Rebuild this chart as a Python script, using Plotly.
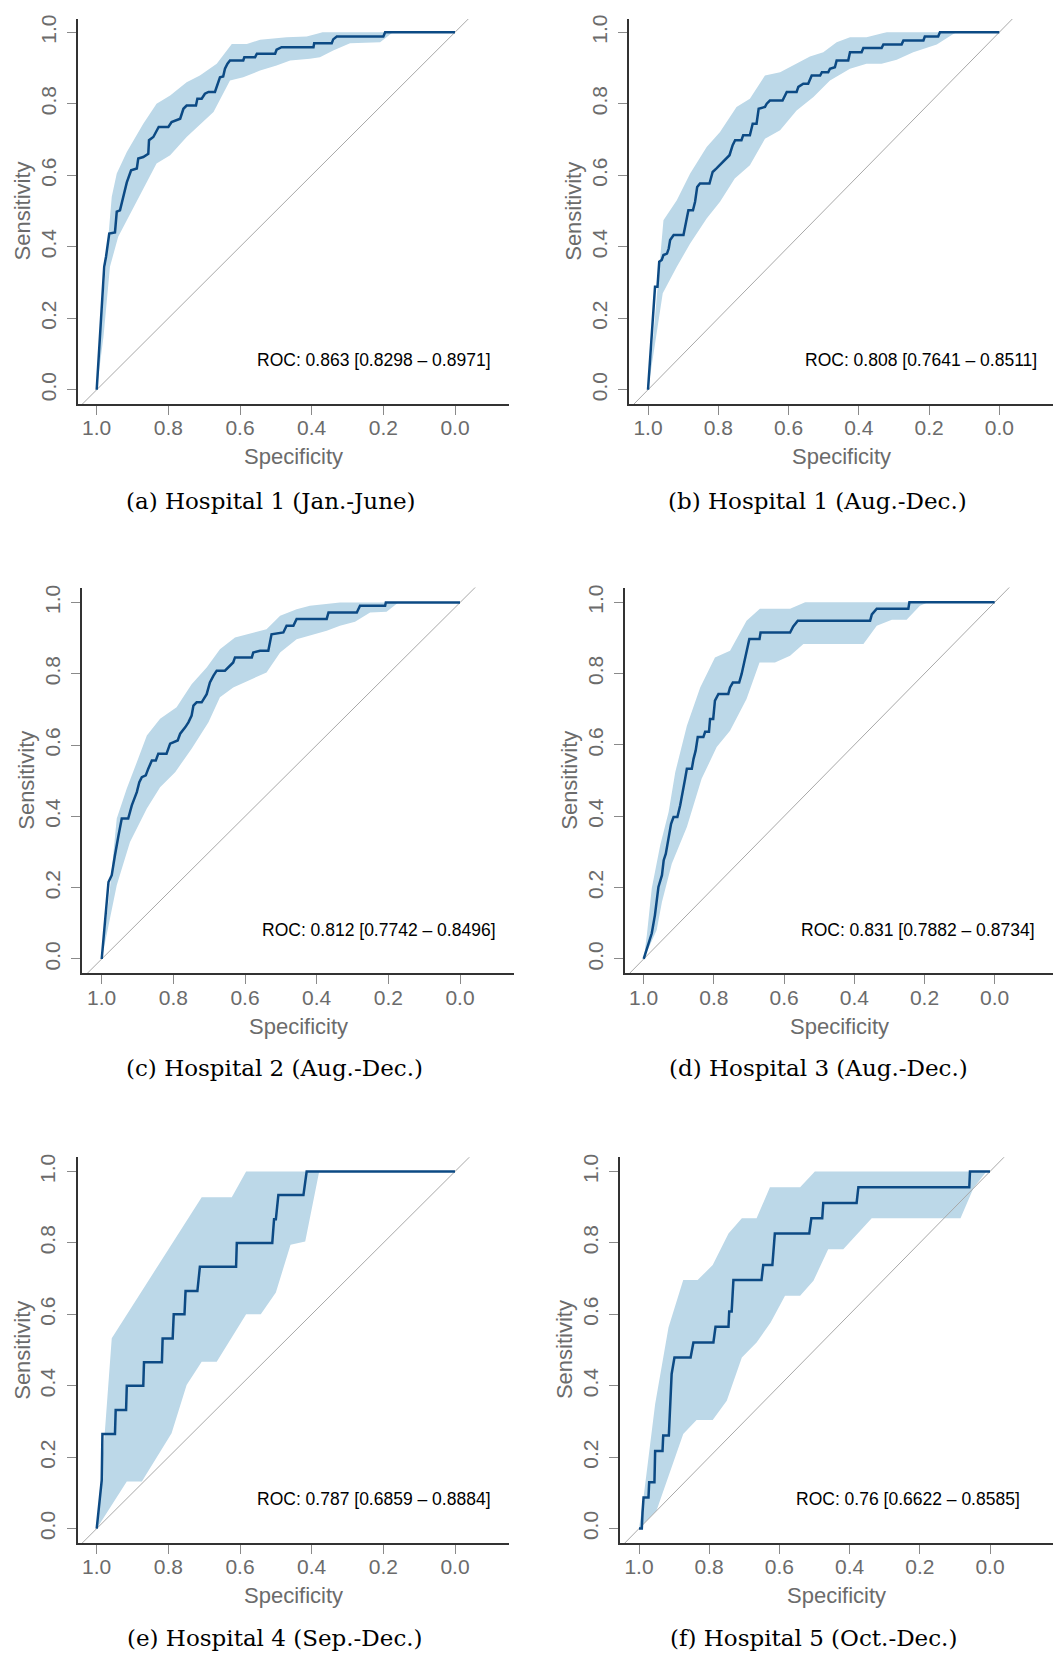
import plotly.graph_objects as go

# ---------------- data (specificity, sensitivity) ----------------
tick_vals = [1.0, 0.8, 0.6, 0.4, 0.2, 0.0]
tick_text = ["1.0", "0.8", "0.6", "0.4", "0.2", "0.0"]

captions = ["(a) Hospital 1 (Jan.-June)", "(b) Hospital 1 (Aug.-Dec.)",
            "(c) Hospital 2 (Aug.-Dec.)", "(d) Hospital 3 (Aug.-Dec.)",
            "(e) Hospital 4 (Sep.-Dec.)", "(f) Hospital 5 (Oct.-Dec.)"]
auc_texts = ["ROC: 0.863 [0.8298 \u2013 0.8971]", "ROC: 0.808 [0.7641 \u2013 0.8511]",
             "ROC: 0.812 [0.7742 \u2013 0.8496]", "ROC: 0.831 [0.7882 \u2013 0.8734]",
             "ROC: 0.787 [0.6859 \u2013 0.8884]", "ROC: 0.76 [0.6622 \u2013 0.8585]"]

a_roc = [(1,0),(0.979,0.344),(0.974,0.372),(0.969,0.410),(0.965,0.437),(0.949,0.440),(0.944,0.498),
         (0.935,0.502),(0.926,0.540),(0.916,0.580),(0.904,0.614),(0.888,0.619),(0.884,0.647),(0.870,0.651),
         (0.856,0.660),(0.854,0.698),(0.842,0.707),(0.833,0.726),(0.827,0.735),(0.800,0.735),(0.791,0.749),
         (0.767,0.758),(0.758,0.786),(0.749,0.795),(0.723,0.795),(0.719,0.814),(0.707,0.814),(0.698,0.828),
         (0.688,0.833),(0.670,0.833),(0.665,0.847),(0.656,0.874),(0.647,0.876),(0.642,0.898),(0.635,0.912),
         (0.628,0.921),(0.591,0.921),(0.588,0.930),(0.558,0.930),(0.553,0.940),(0.502,0.940),(0.498,0.951),
         (0.484,0.958),(0.395,0.958),(0.393,0.969),(0.344,0.969),(0.340,0.980),(0.330,0.988),(0.200,0.988),
         (0.195,1.0),(0,1.0)]
a_upper = [(1,0),(0.991,0.149),(0.958,0.540),(0.944,0.605),(0.916,0.665),(0.870,0.744),(0.833,0.800),
           (0.795,0.823),(0.749,0.860),(0.712,0.879),(0.665,0.912),(0.623,0.967),(0.581,0.967),(0.544,0.979),
           (0.470,0.986),(0.414,0.988),(0.377,0.998),(0.370,1.0),(0,1.0)]
a_lower = [(1,0),(0.981,0.149),(0.963,0.344),(0.940,0.428),(0.916,0.474),(0.833,0.633),(0.795,0.656),
           (0.749,0.707),(0.674,0.777),(0.628,0.865),(0.591,0.874),(0.544,0.893),(0.498,0.907),(0.460,0.921),
           (0.405,0.926),(0.377,0.930),(0.340,0.949),(0.293,0.969),(0.209,0.972),(0.177,0.997),(0.163,1.0),(0,1.0)]

b_roc = [(1,0),(0.980,0.288),(0.973,0.288),(0.971,0.316),(0.968,0.358),(0.961,0.363),(0.956,0.377),
         (0.946,0.381),(0.941,0.395),(0.937,0.419),(0.927,0.433),(0.899,0.433),(0.894,0.456),(0.890,0.470),
         (0.885,0.502),(0.872,0.502),(0.866,0.526),(0.860,0.567),(0.852,0.577),(0.825,0.577),(0.816,0.609),
         (0.805,0.619),(0.791,0.633),(0.777,0.647),(0.768,0.656),(0.759,0.684),(0.752,0.698),(0.734,0.698),
         (0.729,0.712),(0.710,0.712),(0.702,0.744),(0.691,0.744),(0.685,0.786),(0.667,0.791),(0.662,0.800),
         (0.653,0.809),(0.617,0.809),(0.605,0.833),(0.577,0.833),(0.572,0.847),(0.558,0.856),(0.544,0.856),
         (0.534,0.879),(0.510,0.879),(0.505,0.888),(0.487,0.888),(0.482,0.898),(0.468,0.902),(0.463,0.921),
         (0.430,0.921),(0.425,0.944),(0.392,0.944),(0.387,0.956),(0.335,0.956),(0.330,0.966),(0.278,0.966),
         (0.273,0.977),(0.216,0.977),(0.212,0.988),(0.174,0.988),(0.169,1.0),(0,1.0)]
b_upper = [(1,0),(0.985,0.149),(0.956,0.474),(0.918,0.530),(0.880,0.605),(0.833,0.679),(0.795,0.721),
           (0.748,0.791),(0.710,0.814),(0.667,0.879),(0.624,0.888),(0.577,0.912),(0.539,0.932),(0.501,0.944),
           (0.463,0.972),(0.425,0.986),(0.378,0.986),(0.330,0.998),(0.320,1.0),(0,1.0)]
b_lower = [(1,0),(0.958,0.270),(0.918,0.344),(0.880,0.409),(0.833,0.479),(0.795,0.526),(0.753,0.591),
           (0.710,0.628),(0.667,0.702),(0.624,0.726),(0.577,0.781),(0.529,0.819),(0.482,0.865),(0.425,0.898),
           (0.378,0.912),(0.335,0.912),(0.292,0.923),(0.245,0.944),(0.178,0.966),(0.131,0.995),(0.121,1.0),(0,1.0)]

c_roc = [(1,0),(0.981,0.216),(0.972,0.235),(0.967,0.272),(0.963,0.291),(0.953,0.347),(0.944,0.394),
         (0.926,0.394),(0.916,0.431),(0.902,0.468),(0.895,0.496),(0.888,0.510),(0.877,0.515),(0.870,0.534),
         (0.860,0.557),(0.849,0.557),(0.842,0.576),(0.819,0.576),(0.809,0.604),(0.788,0.613),(0.781,0.632),
         (0.767,0.650),(0.758,0.664),(0.749,0.683),(0.744,0.711),(0.735,0.720),(0.721,0.720),(0.707,0.743),
         (0.698,0.776),(0.688,0.795),(0.679,0.809),(0.656,0.809),(0.642,0.823),(0.633,0.832),(0.628,0.846),
         (0.581,0.846),(0.577,0.860),(0.558,0.865),(0.535,0.865),(0.526,0.911),(0.493,0.916),(0.484,0.935),
         (0.465,0.935),(0.456,0.954),(0.372,0.954),(0.367,0.972),(0.288,0.972),(0.279,0.991),(0.209,0.991),
         (0.207,1.0),(0,1.0)]
c_upper = [(1,0),(0.977,0.198),(0.958,0.394),(0.930,0.478),(0.902,0.552),(0.874,0.627),(0.837,0.674),
           (0.791,0.706),(0.749,0.771),(0.707,0.818),(0.670,0.869),(0.628,0.902),(0.540,0.925),(0.502,0.963),
           (0.456,0.981),(0.419,0.991),(0.335,1.0),(0,1.0)]
c_lower = [(1,0),(0.958,0.207),(0.921,0.328),(0.874,0.422),(0.837,0.482),(0.795,0.524),(0.749,0.590),
           (0.702,0.664),(0.670,0.734),(0.633,0.762),(0.540,0.804),(0.502,0.860),(0.456,0.897),(0.372,0.921),
           (0.335,0.935),(0.293,0.946),(0.251,0.972),(0.205,0.974),(0.172,1.0),(0,1.0)]

d_roc = [(1,0),(0.977,0.072),(0.968,0.123),(0.963,0.160),(0.958,0.202),(0.948,0.235),(0.943,0.277),
         (0.937,0.295),(0.929,0.347),(0.922,0.379),(0.915,0.398),(0.904,0.398),(0.896,0.431),(0.890,0.468),
         (0.882,0.505),(0.877,0.533),(0.863,0.533),(0.858,0.561),(0.852,0.584),(0.846,0.622),(0.830,0.622),
         (0.825,0.637),(0.814,0.637),(0.811,0.673),(0.802,0.673),(0.797,0.724),(0.787,0.743),(0.759,0.743),
         (0.754,0.761),(0.746,0.775),(0.728,0.775),(0.721,0.799),(0.711,0.841),(0.699,0.897),(0.670,0.897),
         (0.667,0.915),(0.583,0.915),(0.574,0.932),(0.561,0.948),(0.355,0.948),(0.350,0.966),(0.336,0.982),
         (0.246,0.982),(0.243,1.0),(0,1.0)]
d_upper = [(1,0),(0.991,0.067),(0.977,0.198),(0.953,0.319),(0.929,0.412),(0.910,0.524),(0.877,0.654),
           (0.839,0.761),(0.797,0.845),(0.754,0.864),(0.707,0.948),(0.669,0.982),(0.583,0.982),(0.540,1.0),(0,1.0)]
d_lower = [(1,0),(0.963,0.081),(0.948,0.160),(0.920,0.267),(0.877,0.370),(0.835,0.505),(0.792,0.594),
           (0.754,0.640),(0.707,0.729),(0.670,0.831),(0.626,0.831),(0.583,0.850),(0.545,0.883),(0.374,0.883),
           (0.336,0.934),(0.293,0.951),(0.251,0.951),(0.213,0.990),(0.190,1.0),(0,1.0)]

e_roc = [(1,0),(0.986,0.135),(0.984,0.265),(0.949,0.265),(0.947,0.332),(0.918,0.332),(0.916,0.400),
         (0.870,0.400),(0.868,0.466),(0.818,0.466),(0.816,0.532),(0.788,0.532),(0.785,0.600),(0.755,0.600),
         (0.752,0.665),(0.719,0.665),(0.712,0.733),(0.611,0.733),(0.609,0.800),(0.510,0.800),(0.505,0.866),
         (0.500,0.866),(0.493,0.934),(0.423,0.934),(0.414,1.0),(0,1.0)]
e_upper = [(1,0),(0.977,0.275),(0.958,0.533),(0.707,0.928),(0.623,0.928),(0.583,1.0),(0,1.0)]
e_lower = [(1,0),(0.916,0.132),(0.874,0.132),(0.791,0.267),(0.749,0.402),(0.707,0.467),(0.665,0.467),
           (0.583,0.600),(0.542,0.600),(0.500,0.661),(0.459,0.795),(0.418,0.804),(0.379,1.0),(0,1.0)]

f_roc = [(1,0),(0.992,0),(0.990,0.044),(0.987,0.087),(0.973,0.087),(0.971,0.130),(0.956,0.130),
         (0.954,0.217),(0.933,0.217),(0.931,0.261),(0.915,0.261),(0.912,0.349),(0.907,0.433),(0.899,0.479),
         (0.853,0.479),(0.845,0.521),(0.788,0.521),(0.782,0.565),(0.745,0.565),(0.743,0.608),(0.736,0.608),
         (0.731,0.696),(0.651,0.696),(0.646,0.738),(0.620,0.738),(0.613,0.826),(0.515,0.826),(0.509,0.869),
         (0.478,0.869),(0.475,0.912),(0.380,0.912),(0.375,0.956),(0.059,0.956),(0.057,1.0),(0,1.0)]
f_upper = [(1,0),(0.987,0.088),(0.954,0.349),(0.916,0.563),(0.874,0.696),(0.833,0.696),(0.790,0.738),
           (0.745,0.826),(0.707,0.869),(0.665,0.869),(0.627,0.956),(0.541,0.956),(0.499,1.0),(0,1.0)]
f_lower = [(1,0),(0.950,0.051),(0.921,0.130),(0.874,0.265),(0.836,0.304),(0.790,0.304),(0.750,0.358),
           (0.707,0.479),(0.665,0.521),(0.625,0.577),(0.584,0.652),(0.541,0.652),(0.503,0.694),(0.461,0.782),
           (0.418,0.782),(0.337,0.869),(0.084,0.869),(0.047,0.954),(0.010,1.0),(0,1.0)]

rocs = [a_roc, b_roc, c_roc, d_roc, e_roc, f_roc]
uppers = [a_upper, b_upper, c_upper, d_upper, e_upper, f_upper]
lowers = [a_lower, b_lower, c_lower, d_lower, e_lower, f_lower]

# ---------------- layout geometry (pixels) ----------------
W, H = 1053, 1657
# left, right, top, bottom of plot area; pixel of spec=1, spec=0, sens=1, sens=0
geom = [
    (78.0, 509.0, 15.0, 401.0, 96.7, 455.0, 28.3, 386.7),
    (629.3, 1053.0, 15.0, 401.0, 648.0, 999.3, 28.3, 386.7),
    (82.3, 514.3, 585.0, 971.7, 101.7, 460.0, 600.0, 957.3),
    (625.3, 1053.0, 585.0, 971.7, 643.7, 994.7, 599.7, 957.3),
    (77.7, 509.3, 1156.0, 1542.7, 96.7, 455.0, 1170.3, 1528.3),
    (620.0, 1053.0, 1156.0, 1542.7, 639.0, 990.0, 1170.3, 1528.3),
]
caption_pos = [(271, 498), (817.5, 498), (275, 1067), (818.3, 1067), (275.2, 1638), (813.3, 1638)]

LINE = "#0c4a84"
FILL = "#bcd8e8"
GRAY = "#6b6b6b"
SANS = "Liberation Sans, Arial, sans-serif"

fig = go.Figure()
layout = dict(width=W, height=H, margin=dict(l=0, r=0, t=0, b=0),
              paper_bgcolor="white", plot_bgcolor="white", showlegend=False)
annotations = []

for i, (roc, up, lo, g) in enumerate(zip(rocs, uppers, lowers, geom)):
    n = i + 1
    xa = "x" if n == 1 else f"x{n}"
    ya = "y" if n == 1 else f"y{n}"
    left, right, top, bottom, xs1, xs0, ys1, ys0 = g
    xr = [(xs0 - left) / (xs0 - xs1), (xs0 - right) / (xs0 - xs1)]
    yr = [(ys0 - bottom) / (ys0 - ys1), (ys0 - top) / (ys0 - ys1)]

    band_x = [p[0] for p in up] + [p[0] for p in reversed(lo)]
    band_y = [p[1] for p in up] + [p[1] for p in reversed(lo)]
    fig.add_trace(go.Scatter(x=band_x, y=band_y, mode="lines", fill="toself", fillcolor=FILL,
                             line=dict(width=0, color=FILL), xaxis=xa, yaxis=ya, hoverinfo="skip"))
    fig.add_trace(go.Scatter(x=[1.3, -0.3], y=[-0.3, 1.3], mode="lines",
                             line=dict(color="#a8a8a8", width=1), xaxis=xa, yaxis=ya, hoverinfo="skip"))
    fig.add_trace(go.Scatter(x=[p[0] for p in roc], y=[p[1] for p in roc], mode="lines",
                             line=dict(color=LINE, width=2.5), xaxis=xa, yaxis=ya))

    axcommon = dict(showline=True, linecolor="#333333", linewidth=2, ticks="outside", ticklen=9,
                    tickwidth=1, tickcolor="#8a8a8a", showgrid=False, zeroline=False,
                    tickvals=tick_vals, ticktext=tick_text,
                    tickfont=dict(family=SANS, size=21, color=GRAY))
    layout[f"xaxis{'' if n == 1 else n}"] = dict(domain=[left / W, right / W], range=xr, anchor=ya,
                                                 ticklabelstandoff=-5, **axcommon)
    layout[f"yaxis{'' if n == 1 else n}"] = dict(domain=[1 - bottom / H, 1 - top / H], range=yr, anchor=xa,
                                                 tickangle=-90, ticklabelstandoff=3, **axcommon)

    # axis titles
    annotations.append(dict(text="Specificity", xref="paper", yref="paper",
                            x=(left + right) / 2 / W, y=1 - (bottom + 53) / H,
                            xanchor="center", yanchor="middle", showarrow=False,
                            font=dict(family=SANS, size=22, color=GRAY)))
    annotations.append(dict(text="Sensitivity", xref="paper", yref="paper",
                            x=(left - 56) / W, y=1 - (top + bottom) / 2 / H, textangle=-90,
                            xanchor="center", yanchor="middle", showarrow=False,
                            font=dict(family=SANS, size=22, color=GRAY)))
    # AUC text
    annotations.append(dict(text=auc_texts[i], xref=xa, yref=ya, x=0.558, y=0.082,
                            xanchor="left", yanchor="middle", showarrow=False,
                            font=dict(family=SANS, size=17.5, color="black")))
    # caption
    cx, cy = caption_pos[i]
    annotations.append(dict(text=captions[i], xref="paper", yref="paper", x=cx / W, y=1 - cy / H,
                            xanchor="center", yanchor="middle", showarrow=False,
                            font=dict(family="DejaVu Serif, serif", size=23, color="black")))

layout["annotations"] = annotations
fig.update_layout(**layout)
fig.write_html("out.html")
